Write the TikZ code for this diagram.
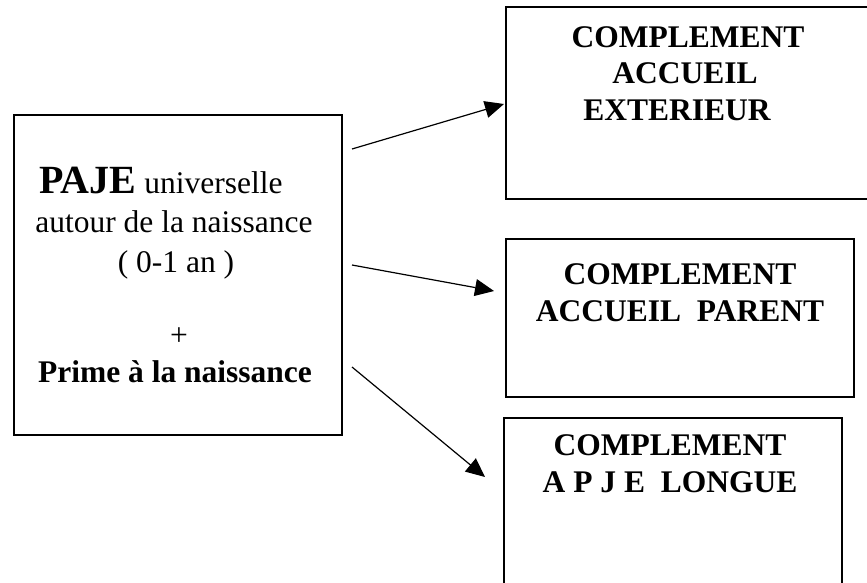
\documentclass[tikz,border=0pt]{standalone}
\usepackage{fontspec}
\setmainfont{Liberation Serif}
\usetikzlibrary{arrows.meta}
\begin{document}
\begin{tikzpicture}[x=1pt,y=-1pt,
  box/.style={draw, line width=1.5pt, anchor=north west, inner sep=0pt, outer sep=0pt},
  lbl/.style={anchor=base, inner sep=0pt, font=\fontsize{31.5}{36}\selectfont\bfseries},
  txt/.style={anchor=base, inner sep=0pt, font=\fontsize{31.5}{36}\selectfont},
  arr/.style={line width=1.2pt, -{Triangle[length=19pt,width=17pt]}}]
\useasboundingbox (0,0) rectangle (867,582);

% boxes
\node[box, minimum width=328pt, minimum height=320pt] (lbox) at (14,115) {};
\node[box, minimum width=370pt, minimum height=192pt] (tbox) at (506,7) {};
\node[box, minimum width=348pt, minimum height=158pt] (mbox) at (506,239) {};
\node[box, minimum width=338pt, minimum height=180pt] (bbox) at (504,418) {};

% left box text
\node[txt] (l1) at (161,193) {{\fontsize{40}{40}\selectfont\bfseries PAJE} universelle};
\node[txt] (l2) at (174,232) {autour de la naissance};
\node[txt] (l3) at (176,272) {( 0-1 an )};
\node[txt] (l4) at (179,345) {+};
\node[lbl] (l5) at (175,382) {Prime à la naissance};

% top box text
\node[lbl] (t1) at (688,47) {COMPLEMENT};
\node[lbl] (t2) at (685,83) {ACCUEIL};
\node[lbl] (t3) at (677,120) {EXTERIEUR};

% middle box text
\node[lbl] (m1) at (680,284) {COMPLEMENT};
\node[lbl] (m2) at (680,321) {ACCUEIL\ \ PARENT};

% bottom box text
\node[lbl] (b1) at (670,455) {COMPLEMENT};
\node[lbl] (b2) at (670,492) {A P J E\ \ LONGUE};

% arrows
\coordinate (a1s) at (352,149);
\coordinate (a1e) at (504,104);
\coordinate (a2s) at (352,265);
\coordinate (a2e) at (494,291);
\coordinate (a3s) at (352,367);
\coordinate (a3e) at (485,477);
\draw[arr] (a1s) -- (a1e);
\draw[arr] (a2s) -- (a2e);
\draw[arr] (a3s) -- (a3e);
\end{tikzpicture}
\end{document}
